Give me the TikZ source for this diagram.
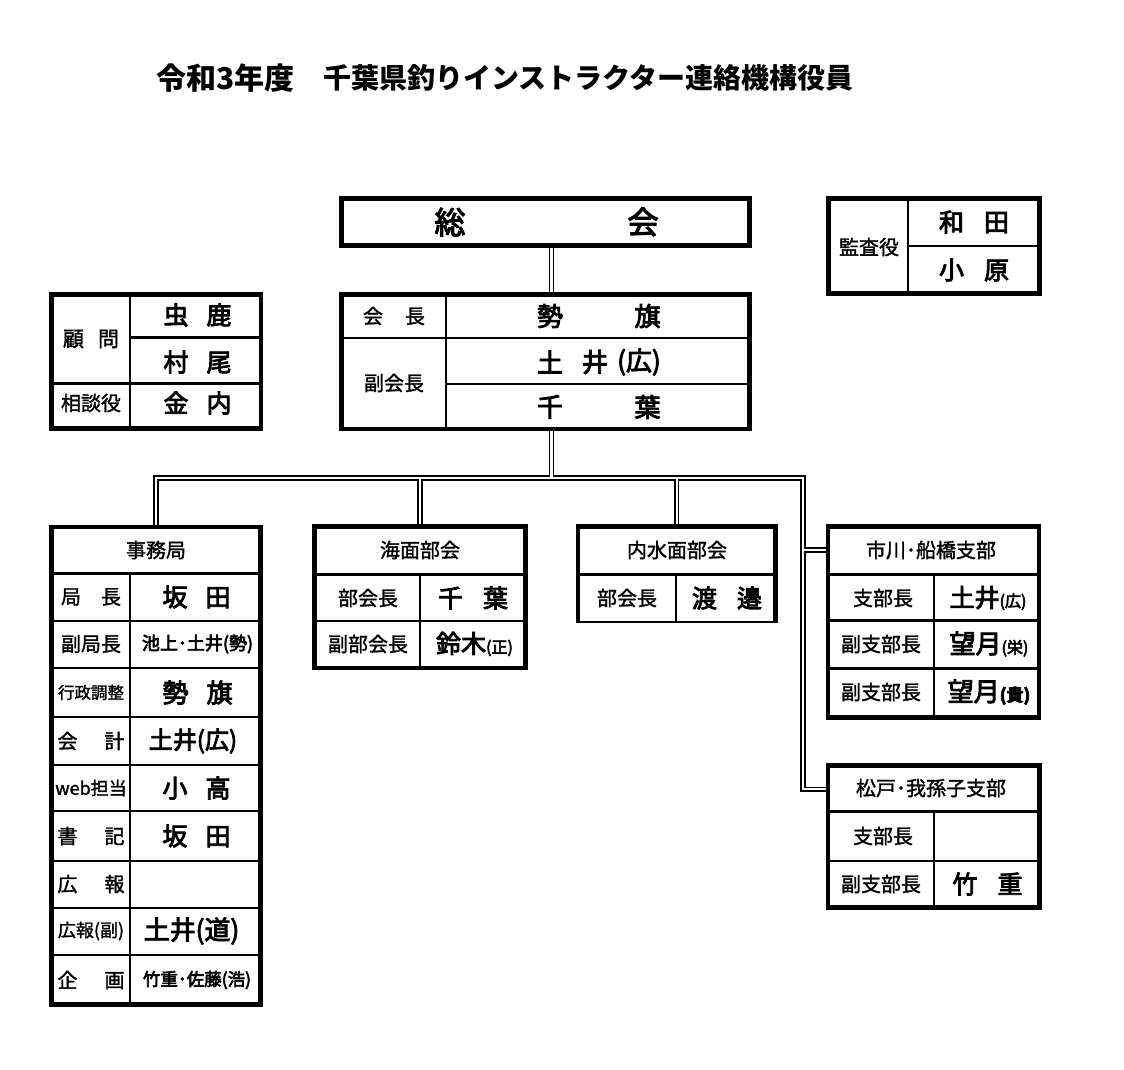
\documentclass[tikz,border=0pt]{standalone}
\usepackage{fontspec}
\setmainfont{Noto Sans CJK JP}
\newfontfamily\jpn{Noto Sans CJK JP}[FakeBold=3.5]
\newfontfamily\jpl{Noto Sans CJK JP}[FakeBold=1.6]
\usetikzlibrary{calc}
\newcommand{\jfs}[1]{\fontsize{#1}{#1}\selectfont}
\begin{document}
\begin{tikzpicture}[x=1pt,y=-1pt,
  box/.style={draw, line width=4.5pt, fill=white, inner sep=0pt, rectangle},
  lb/.style={inner sep=0pt, font=\jpl\jfs{20}},
  nm/.style={inner sep=0pt, font=\jpn\jfs{25}},
  dv/.style={line width=2.2pt},
  hd/.style={line width=3pt},
  tn/.style={line width=1.3pt},
  connB/.style={line width=5.4pt, black},
  connW/.style={line width=2.4pt, white}]
\useasboundingbox (0,0) rectangle (1124,1070);
\fill[white] (0,0) rectangle (1124,1070);

% title
\node[font=\bfseries\jfs{30}, anchor=west, inner sep=0pt] (t1) at (156,78) {令和3年度};
\node[font=\bfseries\jfs{28}, anchor=west, inner sep=0pt] (t2) at (323,78) {千葉県釣りインストラクター連絡機構役員};

% boxes
\node[box, minimum width=408pt, minimum height=47pt] (sokai) at (545.5,222) {};
\node[box, minimum width=408pt, minimum height=134.5pt] (kaicho) at (545.5,361.75) {};
\node[box, minimum width=209.5pt, minimum height=134pt] (komon) at (156.25,361.5) {};
\node[box, minimum width=211pt, minimum height=95pt] (kansa) at (934,246) {};
\node[box, minimum width=209pt, minimum height=477.5pt] (jimu) at (156,765.75) {};
\node[box, minimum width=211pt, minimum height=141.5pt] (kaimen) at (420,597.25) {};
\node[box, draw=none, minimum width=197.5pt, minimum height=94.5pt] (naisui) at (676.75,573.75) {};
\draw[line width=4.5pt] (578,622.7) -- (578,526.5) -- (775.5,526.5) -- (775.5,622.7);
\draw[line width=2pt] (578,621.7) -- (775.5,621.7);
\node[box, minimum width=211pt, minimum height=191pt] (ichikawa) at (933.5,622) {};
\node[box, minimum width=211.5pt, minimum height=142pt] (matsudo) at (933.75,836.5) {};

% dividers
\draw[dv] (445.7,294.5) -- (445.7,429);
\draw[dv] (341.5,338) -- (749.5,338);
\draw[tn] (445.7,384) -- (749.5,384);
\draw[dv] (130,294.5) -- (130,428.5);
\draw[dv] (130,337.5) -- (261,337.5);
\draw[hd] (51.5,383.5) -- (261,383.5);
\draw[dv] (907.7,198.5) -- (907.7,293.5);
\draw[dv] (907.7,245.7) -- (1039.5,245.7);
\draw[hd] (51.5,573.5) -- (260.5,573.5);
\draw[dv] (130,573.5) -- (130,1004.5);
\foreach \yy in {620.7,667.7,717.3,765,811,860.7,907.7,955}
  \draw[dv] (51.5,\yy) -- (260.5,\yy);
\draw[hd] (314.5,574.3) -- (525.5,574.3);
\draw[dv] (314.5,621) -- (525.5,621);
\draw[dv] (420,574.3) -- (420,668);
\draw[hd] (578,574.3) -- (775.5,574.3);
\draw[dv] (676,574.3) -- (676,621.5);
\draw[hd] (828,574) -- (1039,574);
\draw[dv] (934.3,574) -- (934.3,717.5);
\draw[dv] (828,620.5) -- (1039,620.5);
\draw[hd] (828,668) -- (1039,668);
\draw[hd] (828,811) -- (1039.5,811);
\draw[dv] (828,860.7) -- (1039.5,860.7);
\draw[dv] (934.3,811) -- (934.3,907.5);

% sokai
\node[nm, font=\jpn\jfs{31}] (s1) at (450,222) {総};
\node[nm, font=\jpn\jfs{31}] (s2) at (643,222) {会};
% kaicho
\node[lb] (k1) at (394,316) {会\hspace{22pt}長};
\node[lb] (k2) at (394,383) {副会長};
\node[nm, font=\jpn\jfs{26}] (k3) at (550,316) {勢};
\node[nm, font=\jpn\jfs{26}] (k4) at (647.5,316) {旗};
\node[nm, font=\jpn\jfs{26}] (k5) at (550,362) {土};
\node[nm, font=\jpn\jfs{26}] (k6) at (595,362) {井};
\node[nm, font=\jpn\jfs{26}] (k7) at (639,362) {(広)};
\node[nm, font=\jpn\jfs{26}] (k8) at (550,407) {千};
\node[nm, font=\jpn\jfs{26}] (k9) at (647.5,407) {葉};
% komon
\node[lb, font=\jpl\jfs{21}] (c1) at (91,339) {顧\hspace{14pt}問};
\node[lb] (c2) at (91,403) {相談役};
\node[nm] (c3) at (197.5,315) {虫\hspace{18pt}鹿};
\node[nm] (c4) at (197.5,362) {村\hspace{18pt}尾};
\node[nm] (c5) at (197.5,403) {金\hspace{18pt}内};
% kansa
\node[lb] (a1) at (869,247) {監査役};
\node[nm] (a2) at (974,222) {和\hspace{20pt}田};
\node[nm] (a3) at (974,270) {小\hspace{20pt}原};
% jimu
\node[lb] (j0) at (156,550) {事務局};
\node[lb] (j1) at (91,597) {局\hspace{20pt}長};
\node[lb] (j2) at (91,644) {副局長};
\node[lb, font=\jpl\jfs{16.5}] (j3) at (91,692.5) {行政調整};
\node[lb] (j4) at (91,741) {会\hspace{27pt}計};
\node[lb, font=\jpl\jfs{18}] (j5) at (91,788) {web担当};
\node[lb] (j6) at (91,836) {書\hspace{27pt}記};
\node[lb] (j7) at (91,884) {広\hspace{27pt}報};
\node[lb, font=\jpl\jfs{18}] (j8) at (91,931) {広報(副)};
\node[lb] (j9) at (91,980) {企\hspace{27pt}画};
\node[nm] (v1) at (196.5,597) {坂\hspace{18pt}田};
\node[nm, font=\jpn\jfs{18}] (v2) at (197.5,644) {池上･土井(勢)};
\node[nm, font=\jpn\jfs{26}] (v3) at (197.5,692.5) {勢\hspace{18pt}旗};
\node[nm, font=\jpn\jfs{24}] (v4) at (193,741) {土井(広)};
\node[nm] (v5) at (196.5,788) {小\hspace{18pt}高};
\node[nm] (v6) at (196.5,836) {坂\hspace{18pt}田};
\node[nm, font=\jpn\jfs{26}] (v8) at (191.5,931) {土井(道)};
\node[nm, font=\jpn\jfs{17.5}] (v9) at (197,980) {竹重･佐藤(浩)};
% kaimen
\node[lb] (m0) at (420,550) {海面部会};
\node[lb] (m1) at (368,598) {部会長};
\node[lb] (m2) at (368,644) {副部会長};
\node[nm] (m3) at (473,598) {千\hspace{20pt}葉};
\node[nm] (m4) at (474.5,644) {鈴木{\jfs{16}(正)}};
% naisui
\node[lb] (n0) at (677,550) {内水面部会};
\node[lb] (n1) at (627,598) {部会長};
\node[nm] (n2) at (727,598) {渡\hspace{20pt}邉};
% ichikawa
\node[lb] (i0) at (931,550) {市川･船橋支部};
\node[lb] (i1) at (883,598) {支部長};
\node[lb] (i2) at (881,644) {副支部長};
\node[lb] (i3) at (881,692) {副支部長};
\node[nm] (i4) at (988,598) {土井{\jfs{16}(広)}};
\node[nm, font=\jpn\jfs{26}] (i5) at (989,644) {望月{\jfs{16}(栄)}};
\node[nm, font=\jpn\jfs{26}] (i6) at (989,692) {望月{\bfseries\jfs{17}(貴)}};
% matsudo
\node[lb] (o0) at (931,788) {松戸･我孫子支部};
\node[lb] (o1) at (883,836) {支部長};
\node[lb] (o2) at (881,884) {副支部長};
\node[nm] (o3) at (987.5,884) {竹\hspace{20pt}重};

% connectors
\coordinate (trunk) at (551.5,478);
\coordinate (busR) at (803,478);
\coordinate (ichiHdr) at ([yshift=-25.75pt]ichikawa.north west);
\coordinate (matsHdr) at ([yshift=-26pt]matsudo.north west);
\newcommand{\connectors}[1]{%
  \draw[#1] (sokai.south -| trunk) -- (kaicho.north -| trunk);
  \draw[#1] (kaicho.south -| trunk) -- (trunk);
  \draw[#1] (jimu.north) |- (busR) |- (matsHdr);
  \draw[#1] (kaimen.north) -- (kaimen.north |- busR);
  \draw[#1] (naisui.north) -- (naisui.north |- busR);
  \draw[#1] (ichiHdr) -- (ichiHdr -| busR);
}
\connectors{connB}
\connectors{connW}
\end{tikzpicture}
\end{document}
